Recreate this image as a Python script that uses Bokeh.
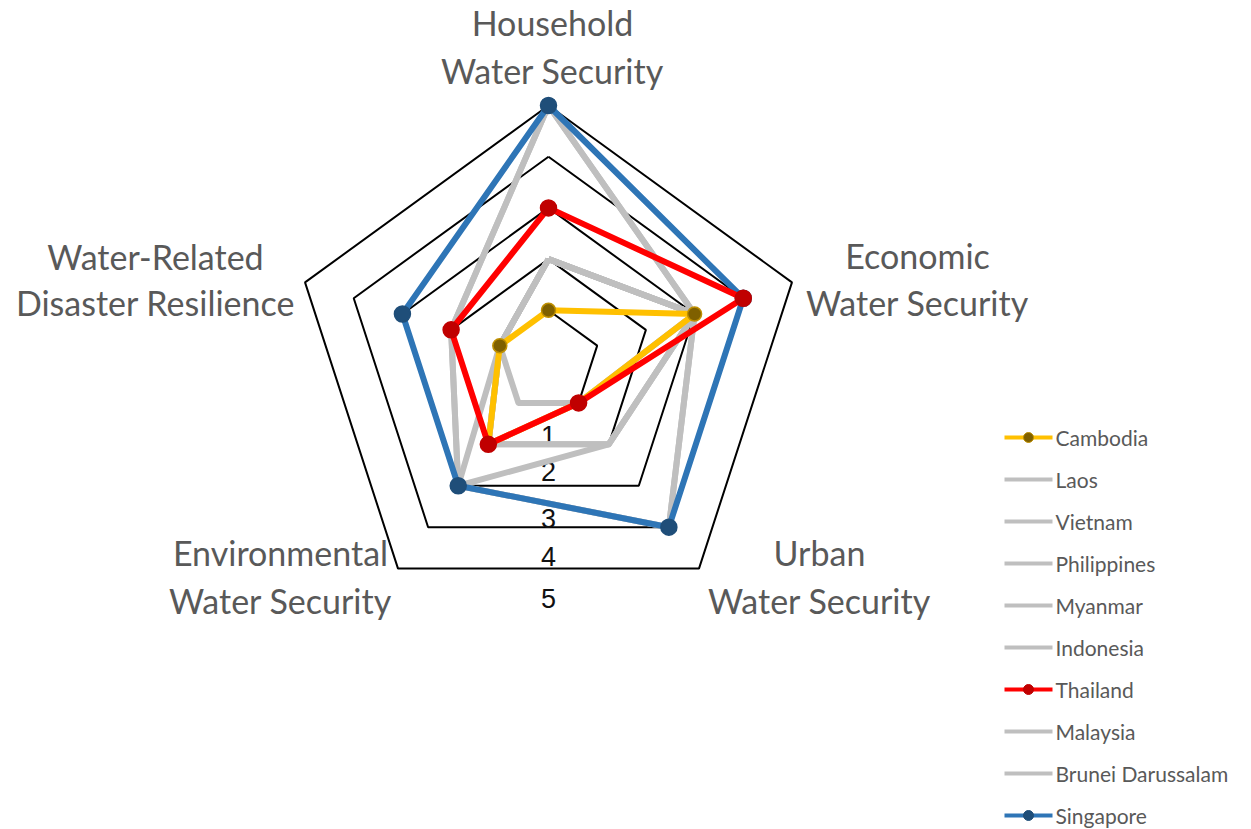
import math
from bokeh.plotting import figure
from bokeh.models import Range1d
from bokeh.core.properties import value
from bokeh.embed import file_html
from bokeh.resources import INLINE

# ---------------- data ----------------
categories = ["Household\nWater Security", "Economic\nWater Security", "Urban\nWater Security",
              "Environmental\nWater Security", "Water-Related\nDisaster Resilience"]
level_values = [1, 2, 3, 4, 5]
level_labels = ["1", "2", "3", "4", "5"]

countries = ["Cambodia", "Laos", "Vietnam", "Philippines", "Myanmar", "Indonesia",
             "Thailand", "Malaysia", "Brunei Darussalam", "Singapore"]
cambodia = [1, 3, 1, 2, 1]
laos = [2, 3, 1, 1, 1]
vietnam = [2, 3, 2, 2, 1]
philippines = [2, 3, 2, 3, 1]
myanmar = [2, 3, 1, 2, 1]
indonesia = [2, 3, 2, 2, 1]
thailand = [3, 4, 1, 2, 2]
malaysia = [5, 3, 4, 3, 2]
brunei = [5, 3, 4, 3, 2]
singapore = [5, 4, 4, 3, 3]
series_values = [cambodia, laos, vietnam, philippines, myanmar, indonesia,
                 thailand, malaysia, brunei, singapore]

# ---------------- styles / layout ----------------
W, H = 1251, 829
CX, CY = 548, 361          # chart centre (page pixels)
UNIT = 51.2                # pixels per score unit
GRAY = "#BFBFBF"
styles = {
    "Cambodia": dict(line="#FFC000", marker="#7F6000", mline="#BF9000", size=14),
    "Thailand": dict(line="#FF0000", marker="#C00000", mline="#C00000", size=16),
    "Singapore": dict(line="#2E75B6", marker="#1F4E79", mline="#1F4E79", size=16),
}
draw_order = [1, 2, 3, 4, 5, 7, 8, 0, 9, 6]

label_pos = [(552, 22, 70), (917, 255, 302), (819, 552, 600), (280, 552, 600), (155, 256, 302)]
level_label_y = [435, 471, 518, 556, 598]

n = len(categories)
angles = [math.pi / 2 - 2 * math.pi * i / n for i in range(n)]


def to_xy(vals):
    xs = [CX + v * UNIT * math.cos(a) for v, a in zip(vals, angles)]
    ys = [CY - v * UNIT * math.sin(a) for v, a in zip(vals, angles)]
    return xs, ys


p = figure(width=W, height=H, x_range=Range1d(0, W), y_range=Range1d(H, 0),
           x_axis_type=None, y_axis_type=None, toolbar_location=None,
           output_backend="svg", min_border=0, outline_line_color=None)
p.grid.visible = False
p.background_fill_color = "white"
p.border_fill_color = "white"

# grid pentagons
for lv in level_values:
    xs, ys = to_xy([lv] * n)
    p.line(xs + xs[:1], ys + ys[:1], line_color="black", line_width=2)

# level labels
p.text(x=[CX] * len(level_labels), y=level_label_y, text=level_labels,
       text_font=value("Liberation Sans"), text_font_size="27px", text_color="#111111",
       text_align="center", text_baseline="middle")

# series
for idx in draw_order:
    name = countries[idx]
    xs, ys = to_xy(series_values[idx])
    st = styles.get(name)
    color = st["line"] if st else GRAY
    p.line(xs + xs[:1], ys + ys[:1], line_color=color, line_width=6, line_join="round")
    if st:
        p.scatter(xs, ys, size=st["size"], fill_color=st["marker"], line_color=st["mline"], line_width=1.5)

# category labels
for cat, (lx, y1, y2) in zip(categories, label_pos):
    lines = cat.split("\n")
    p.text(x=[lx, lx], y=[y1, y2], text=lines, text_font=value("Lato"), text_font_size="34px",
           text_color="#595959", text_align="center", text_baseline="middle")

# legend
LX0, LX1, LTX, LY0, LDY = 1004, 1052, 1055, 437, 42
for i, name in enumerate(countries):
    y = LY0 + i * LDY
    st = styles.get(name)
    color = st["line"] if st else GRAY
    p.line([LX0, LX1], [y, y], line_color=color, line_width=4)
    if st:
        p.scatter([(LX0 + LX1) / 2], [y], size=10, fill_color=st["marker"], line_color=st["mline"])
    p.text(x=[LTX], y=[y], text=[name], text_font=value("Lato"), text_font_size="21px",
           text_color="#595959", text_align="left", text_baseline="middle")

open("out.html", "w").write(file_html(p, INLINE))
